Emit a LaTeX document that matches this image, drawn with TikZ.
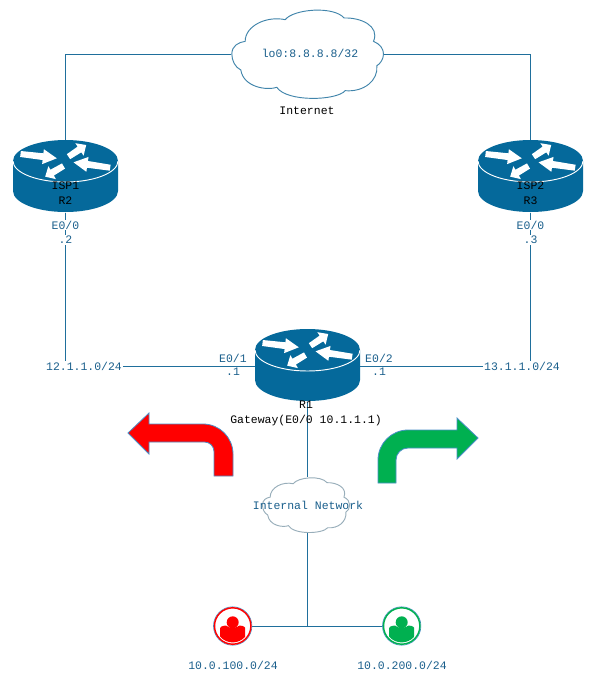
\documentclass[tikz,border=0pt]{standalone}
\usepackage{fontspec}
\setmainfont{Liberation Mono}
\usetikzlibrary{calc}
\definecolor{rblue}{HTML}{05699B}
\definecolor{lineblue}{HTML}{1F6F9C}
\definecolor{textblue}{HTML}{1A5F8C}
\definecolor{arrowedge}{HTML}{4A90C8}
\definecolor{ugreen}{HTML}{00B050}
\tikzset{
 x=0.75pt,y=-0.75pt,
 link/.style={draw=lineblue,line width=0.75pt},
 anchorbox/.style={inner sep=0,outer sep=0,minimum width=#1*0.75pt},
 routerbox/.style={anchorbox=105,minimum height=54.75pt},
 lbl/.style={font=\fontsize{8.6pt}{10pt}\selectfont,text=textblue,inner sep=0.6pt},
 blbl/.style={lbl,text=black},
 whitelbl/.style={lbl,fill=white},
 turn/.style={draw=arrowedge,line width=0.6pt},
}
% block arrow on a router, coordinates in px relative to the router top centre
\newcommand{\routerarrow}[4]{%
 \pgfmathsetmacro\rdx{#3-(#1)}\pgfmathsetmacro\rdy{#4-(#2)}%
 \pgfmathsetmacro\rang{atan2(-\rdy,\rdx)}\pgfmathsetmacro\rlen{veclen(\rdx,\rdy)}%
 \pgfmathsetmacro\rneck{\rlen-0.38*\rlen}%
 \fill[white,shift={(#1,#2)},rotate=\rang,x=0.75pt,y=0.75pt]
  (0,-3) -- (\rneck,-3.4) -- (\rneck,-7.5) -- (\rlen,0) -- (\rneck,7.5) -- (\rneck,3.4) -- (0,3) -- cycle;}
\newcommand{\routerdraw}[2]{%
 \begin{scope}[shift={(#1,#2)}]
  \fill[rblue] (-52.5,0) arc[start angle=180,end angle=360,x radius=52.5,y radius=21] -- (52.5,30)
    arc[start angle=0,end angle=180,x radius=52.5,y radius=21] -- cycle;
  \draw[white,line width=0.7pt] (-52.5,0) arc[start angle=180,end angle=0,x radius=52.5,y radius=21];
  \routerarrow{-45}{-7}{-8.7}{-2.7}
  \routerarrow{3}{-4.3}{20.7}{-16}
  \routerarrow{44.7}{6.7}{8}{1.3}
  \routerarrow{-2}{5}{-20.3}{15.7}
 \end{scope}}
\newcommand{\clouddraw}[5]{%
 \begin{scope}[shift={(#1,#2)},xscale=#3,yscale=#4,x=0.25pt,y=-0.25pt]
  \filldraw[fill=white,draw=#5,line width=0.7pt,shift={(-292,-160)}]
   (65,160) .. controls (65,135) and (85,125) .. (105,122)
   .. controls (105,75) and (170,45) .. (225,57)
   .. controls (250,25) and (370,15) .. (402,52)
   .. controls (450,50) and (510,75) .. (490,122)
   .. controls (510,130) and (520,145) .. (520,160)
   .. controls (520,175) and (510,190) .. (500,195)
   .. controls (505,240) and (460,275) .. (405,270)
   .. controls (380,300) and (230,305) .. (200,260)
   .. controls (170,270) and (100,260) .. (92,208)
   .. controls (75,200) and (65,180) .. (65,160) -- cycle;
 \end{scope}}
\newcommand{\userdraw}[3]{%
 \begin{scope}[shift={(#1,#2)}]
  \begin{scope}
   \clip (0,0) circle[radius=16.4];
   \fill[#3] (-12.5,17) -- (-12.5,2) .. controls (-12,0) and (-8,-0.5) .. (-6.8,-0.5)
     .. controls (-4,2.5) and (4,2.5) .. (6.8,-0.5) .. controls (8,-0.5) and (12,0) .. (12.5,2) -- (12.5,17) -- cycle;
  \end{scope}
  \fill[#3] (0,-3.7) circle[radius=6];
  \draw[arrowedge,line width=0.5pt] (0,0) circle[radius=19.2];
  \draw[#3,line width=1.1pt] (0,0) circle[radius=18.2];
 \end{scope}}
\begin{document}
\begin{tikzpicture}
\useasboundingbox (0,0) rectangle (606,679);
\fill[white] (0,0) rectangle (606,679);
% anchor nodes
\node[routerbox] (r2) at (65.5,176.5) {};
\node[routerbox] (r3) at (530.5,176.5) {};
\node[routerbox] (r1) at (307.5,365.5) {};
\node[anchorbox=153,minimum height=67.5pt] (inet) at (307.5,54) {};
\node[anchorbox=88,minimum height=42pt] (lan) at (307,505) {};
\node[lbl] (n12) at (84,366) {12.1.1.0/24};
\node[lbl] (n13) at (522,366) {13.1.1.0/24};
\node[circle,inner sep=0,minimum size=28.5pt] (u1) at (232.7,626) {};
\node[circle,inner sep=0,minimum size=28.5pt] (u2) at (401.7,626) {};
\coordinate (junction) at (307,626);
% connectors
\draw[link] (inet.west) -| (r2.north);
\draw[link] (inet.east) -| (r3.north);
\draw[link] (r2.south) -- (r2.south |- n12.north);
\draw[link] (r3.south) -- (r3.south |- n13.north);
\draw[link] (n12.east) -- (r1.west |- n12.east);
\draw[link] (n13.west) -- (r1.east |- n13.west);
\draw[link] (r1.south -| lan.north) -- (lan.north);
\draw[link] (lan.south) -- (junction);
\draw[link] (u1) -- (u2);
% shapes
\routerdraw{65.5}{161}
\routerdraw{530.5}{161}
\routerdraw{307.5}{350}
\clouddraw{307.5}{54}{1}{1}{lineblue!85!white}
\clouddraw{306}{505}{0.575}{0.62}{lineblue!45!gray!60!white}
\userdraw{232.7}{626}{red}
\userdraw{401.7}{626}{ugreen}
% turn arrows
\filldraw[turn,fill=red] (128,433) -- (149,413) -- (149,424) -- (203,424)
  arc[start angle=270,end angle=360,radius=30] -- (233,476) -- (214,476) -- (214,451.5)
  arc[start angle=0,end angle=-90,radius=9.5] -- (149,442) -- (149,454) -- cycle;
\filldraw[turn,fill=ugreen] (478,438) -- (457,418) -- (457,430) -- (408,430)
  arc[start angle=270,end angle=180,radius=30] -- (378,483) -- (396,483) -- (396,460)
  arc[start angle=180,end angle=270,radius=12] -- (457,448) -- (457,459) -- cycle;
% labels
\node[lbl] (lo) at (310,53) {lo0:8.8.8.8/32};
\node[blbl] (inetl) at (307,111) {Internet};
\node[blbl] (isp1) at (65.5,186) {ISP1};
\node[blbl] (r2l) at (65.5,201) {R2};
\node[blbl] (isp2) at (530.5,186) {ISP2};
\node[blbl] (r3l) at (530.5,201) {R3};
\node[whitelbl] (e2) at (65.5,225) {E0/0};
\node[whitelbl] (d2) at (65.5,240) {.2};
\node[whitelbl] (e3) at (530.5,225) {E0/0};
\node[whitelbl] (d3) at (530.5,240) {.3};
\node[lbl] (e1) at (233,358) {E0/1};
\node[lbl] (d1) at (233,372) {.1};
\node[lbl] (e22) at (379,358) {E0/2};
\node[lbl] (d12) at (379,372) {.1};
\node[blbl] (r1l) at (306,405) {R1};
\node[blbl] (gw) at (306,421) {Gateway(E0/0 10.1.1.1)};
\node[lbl] (lanl) at (308,505) {Internal Network};
\node[lbl] (ul1) at (233,665) {10.0.100.0/24};
\node[lbl] (ul2) at (402,665) {10.0.200.0/24};
\end{tikzpicture}
\end{document}
